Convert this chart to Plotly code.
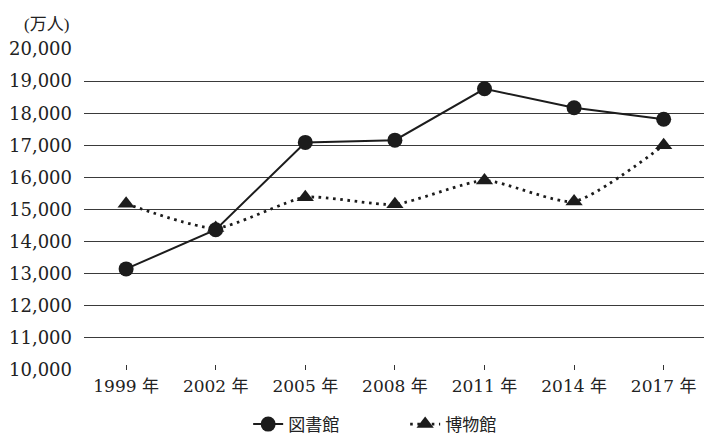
import plotly.graph_objects as go

years = ["1999 年", "2002 年", "2005 年", "2008 年", "2011 年", "2014 年", "2017 年"]
library = [13150, 14370, 17090, 17160, 18760, 18170, 17810]
museum = [15180, 14420, 15380, 15160, 15900, 15250, 17000]
y_ticks = [10000, 11000, 12000, 13000, 14000, 15000, 16000, 17000, 18000, 19000, 20000]

xpos = list(range(len(years)))
FONT = "DejaVu Serif, Noto Sans CJK JP, serif"
INK = "#1c1c1c"

fig = go.Figure()
fig.add_trace(go.Scatter(
    x=xpos, y=library, name="図書館", mode="lines+markers",
    line=dict(color=INK, width=2),
    marker=dict(symbol="circle", size=15, color=INK),
))
fig.add_trace(go.Scatter(
    x=xpos, y=museum, name="博物館", mode="lines+markers",
    line=dict(color=INK, width=2.8, dash="2.6px,4.6px", shape="spline", smoothing=0.6),
    marker=dict(symbol="triangle-up", size=15, color=INK),
))

fig.update_layout(
    width=704, height=435,
    margin=dict(l=84, r=0, t=49, b=65, autoexpand=False),
    paper_bgcolor="white", plot_bgcolor="white",
    font=dict(family=FONT, size=18, color="#222"),
    separators=".,",
    showlegend=True,
    legend=dict(orientation="h", x=0.518, xanchor="center", y=-0.17, yanchor="middle",
                font=dict(family="Noto Sans CJK JP, sans-serif", size=17, color="#222"),
                entrywidth=112, entrywidthmode="pixels",
                bgcolor="rgba(0,0,0,0)"),
)
fig.add_annotation(text="(万人)", xref="paper", yref="paper", x=-0.1, y=1.075,
                   xanchor="left", yanchor="middle", showarrow=False,
                   font=dict(family="Liberation Serif, Noto Sans CJK JP", size=17, color="#222"))

fig.update_xaxes(
    range=[-0.47, 6.45], tickmode="array", tickvals=xpos, ticktext=years,
    showgrid=False, zeroline=False, showline=False, automargin=False,
    ticks="inside", ticklen=5, tickcolor="#333", tickwidth=1.2,
    tickfont=dict(family=FONT, size=17, color="#222"),
    ticklabelstandoff=4,
)
fig.update_yaxes(
    range=[10000, 20000], tickmode="array", tickvals=y_ticks, tickformat=",d",
    showgrid=True, gridcolor="#3a3a3a", gridwidth=1.3, automargin=False,
    zeroline=False, showline=False, ticks="",
    tickfont=dict(family=FONT, size=18, color="#222"),
    ticklabelstandoff=11,
)

fig.write_html("out.html", config={"displayModeBar": False},
               post_script="document.body.style.margin='0';document.body.style.padding='0';")
